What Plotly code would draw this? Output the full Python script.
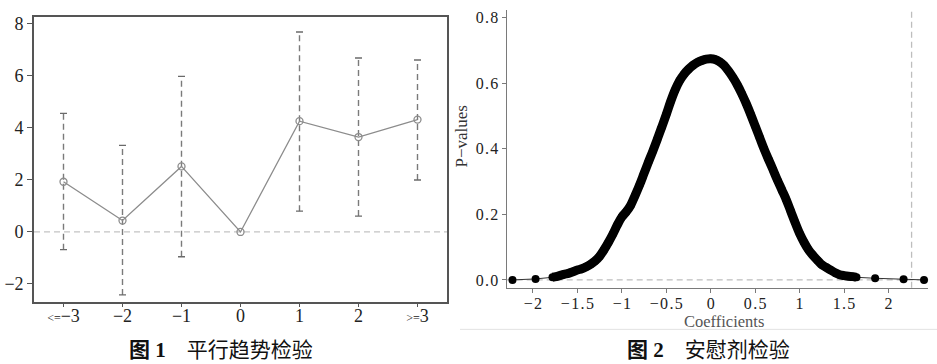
import plotly.graph_objects as go

# ---------------- Data: Figure 1 (parallel trend test) ----------------
periods = ["<=−3", "−2", "−1", "0", "1", "2", ">=3"]
coef_est = [1.93, 0.44, 2.52, 0.00, 4.26, 3.65, 4.32]
ci_low = [-0.68, -2.42, -0.95, None, 0.80, 0.61, 2.00]
ci_high = [4.56, 3.33, 5.98, None, 7.69, 6.69, 6.61]
y_ticks_1 = [-2, 0, 2, 4, 6, 8]

# ---------------- Data: Figure 2 (placebo test) ----------------
coefficients = [
    -2.23, -1.97, -1.78, -1.74, -1.70, -1.65, -1.60, -1.55, -1.50, -1.45,
    -1.40, -1.35, -1.30, -1.25, -1.20, -1.15, -1.10, -1.05, -1.00, -0.95,
    -0.90, -0.85, -0.80, -0.75, -0.70, -0.65, -0.60, -0.55, -0.50, -0.45,
    -0.40, -0.35, -0.30, -0.25, -0.20, -0.15, -0.10, -0.05, 0.00, 0.05,
    0.10, 0.15, 0.20, 0.25, 0.30, 0.35, 0.40, 0.45, 0.50, 0.55,
    0.60, 0.65, 0.70, 0.75, 0.80, 0.85, 0.90, 0.95, 1.00, 1.05,
    1.10, 1.15, 1.20, 1.25, 1.30, 1.35, 1.40, 1.45, 1.50, 1.55,
    1.60, 1.64, 1.85, 2.17, 2.40,
]
p_values = [
    0.000, 0.003, 0.008, 0.010, 0.013, 0.017, 0.020, 0.025, 0.030, 0.034,
    0.040, 0.048, 0.058, 0.072, 0.092, 0.115, 0.140, 0.168, 0.192, 0.208,
    0.228, 0.258, 0.290, 0.325, 0.360, 0.394, 0.430, 0.467, 0.505, 0.545,
    0.580, 0.608, 0.628, 0.643, 0.655, 0.664, 0.670, 0.674, 0.675, 0.673,
    0.666, 0.655, 0.638, 0.618, 0.595, 0.568, 0.538, 0.505, 0.470, 0.435,
    0.400, 0.368, 0.337, 0.305, 0.275, 0.245, 0.210, 0.175, 0.142, 0.115,
    0.092, 0.075, 0.060, 0.046, 0.038, 0.030, 0.022, 0.016, 0.013, 0.011,
    0.010, 0.008, 0.005, 0.002, 0.000,
]
true_coef = 2.26
x_ticks_2 = [-2, -1.5, -1, -0.5, 0, 0.5, 1, 1.5, 2]
y_ticks_2 = [0.0, 0.2, 0.4, 0.6, 0.8]

caption_1 = ("图 1", "平行趋势检验")
caption_2 = ("图 2", "安慰剂检验")

# ---------------- Figure ----------------
W, H = 937, 364
SERIF = "Liberation Serif, Times New Roman, serif"
fig = go.Figure()

def px_x(a, b):
    return [a / W, b / W]

def px_y(top, bottom):
    return [1 - bottom / H, 1 - top / H]

idx = list(range(len(periods)))

# zero reference line (figure 1)
fig.add_shape(type="line", xref="x domain", yref="y", x0=0, x1=1, y0=0, y1=0,
              line=dict(color="#c4c4c4", width=1.3, dash="6px,4px"), layer="below")

# dashed CI bars
ex, ey = [], []
cx, cy = [], []
for i, lo, hi in zip(idx, ci_low, ci_high):
    if lo is None:
        continue
    ex += [i, i, None]
    ey += [lo, hi, None]
    cx += [i, i]
    cy += [lo, hi]
fig.add_trace(go.Scatter(x=ex, y=ey, mode="lines", xaxis="x", yaxis="y",
                         line=dict(color="#7a7a7a", width=1.4, dash="6px,4px"),
                         showlegend=False, hoverinfo="skip"))
fig.add_trace(go.Scatter(x=cx, y=cy, mode="markers", xaxis="x", yaxis="y",
                         marker=dict(symbol="line-ew", size=5,
                                     line=dict(color="#6a6a6a", width=1.4)),
                         showlegend=False, hoverinfo="skip"))
fig.add_trace(go.Scatter(x=idx, y=coef_est, mode="lines+markers", xaxis="x", yaxis="y",
                         line=dict(color="#8c8c8c", width=1.3),
                         marker=dict(symbol="circle-open", size=7,
                                     line=dict(color="#7a7a7a", width=1.3)),
                         showlegend=False))

def fmt_period(s):
    for pre in ("<=", ">="):
        if s.startswith(pre):
            ent = "&lt;=" if pre == "<=" else "&gt;="
            return "<span style='font-size:12px'>" + ent + "</span>" + s[2:]
    return s

ax_line1 = "#555555"
fig.update_layout(
    xaxis=dict(domain=px_x(34, 447), range=[-0.5, 6.5], tickvals=idx,
               ticktext=[fmt_period(p) for p in periods],
               showline=True, mirror=True, linecolor=ax_line1, linewidth=1.6,
               ticks="outside", ticklen=4, tickcolor=ax_line1, showgrid=False,
               zeroline=False, anchor="y", ticklabelstandoff=-7,
               tickfont=dict(family=SERIF, size=18, color="#222")),
    yaxis=dict(domain=px_y(14, 302), range=[-2.68, 8.27], tickvals=y_ticks_1,
               ticktext=[str(v).replace("-", "−") for v in y_ticks_1],
               showline=True, mirror=True, linecolor=ax_line1, linewidth=1.6,
               ticks="outside", ticklen=5, tickcolor=ax_line1, showgrid=False,
               zeroline=False, anchor="x",
               tickfont=dict(family=SERIF, size=18, color="#222")),
)

# ---------------- Figure 2 ----------------
fig.add_shape(type="line", xref="x2 domain", yref="y2", x0=0, x1=1, y0=0, y1=0,
              line=dict(color="#bdbdbd", width=1.3, dash="6px,4px"), layer="below")
fig.add_shape(type="line", xref="x2", yref="y2 domain", x0=true_coef, x1=true_coef,
              y0=0, y1=1, line=dict(color="#bdbdbd", width=1.3, dash="6px,4px"),
              layer="below")

dense_x = coefficients[2:-3]
dense_y = p_values[2:-3]
fig.add_trace(go.Scatter(x=coefficients, y=p_values, mode="lines", xaxis="x2", yaxis="y2",
                         line=dict(color="#333", width=1), showlegend=False,
                         hoverinfo="skip"))
fig.add_trace(go.Scatter(x=dense_x, y=dense_y, mode="lines", xaxis="x2", yaxis="y2",
                         line=dict(color="black", width=9, shape="spline"),
                         showlegend=False, hoverinfo="skip"))
fig.add_trace(go.Scatter(x=coefficients, y=p_values, mode="markers", xaxis="x2", yaxis="y2",
                         marker=dict(color="black", size=8), showlegend=False))

def spaced(v, fmt):
    s = fmt.format(v).replace("-", "−")
    return "\u200a".join(s)

ax_line2 = "#7a7a7a"
fig.update_layout(
    xaxis2=dict(domain=px_x(506.7, 928.3), range=[-2.295, 2.448], tickvals=x_ticks_2,
                ticktext=[spaced(v, "{:g}") for v in x_ticks_2],
                showline=True, linecolor=ax_line2, linewidth=1.3,
                ticks="outside", ticklen=4, tickcolor=ax_line2, showgrid=False,
                zeroline=False, anchor="y2", ticklabelstandoff=-3,
                tickfont=dict(family=SERIF, size=16, color="#222")),
    yaxis2=dict(domain=px_y(6.7, 288), range=[-0.0242, 0.825], tickvals=y_ticks_2,
                ticktext=[spaced(v, "{:.1f}") for v in y_ticks_2],
                showline=True, linecolor=ax_line2, linewidth=1.3,
                ticks="outside", ticklen=4, tickcolor=ax_line2, showgrid=False,
                zeroline=False, anchor="x2",
                tickfont=dict(family=SERIF, size=16, color="#222")),
)

# axis titles of figure 2
fig.add_annotation(text="Coefficients", xref="paper", yref="paper",
                   x=724 / W, y=1 - 322 / H, xanchor="center", yanchor="middle",
                   showarrow=False, font=dict(family=SERIF, size=16.5, color="#555"))
fig.add_annotation(text="P−values", xref="paper", yref="paper",
                   x=462 / W, y=1 - 135 / H, xanchor="center", yanchor="middle",
                   textangle=-90, showarrow=False,
                   font=dict(family=SERIF, size=17, color="#333"))

# thin separator under figure 2 image
fig.add_shape(type="line", xref="paper", yref="paper", x0=460 / W, x1=1,
              y0=1 - 330 / H, y1=1 - 330 / H, line=dict(color="#e2e2e2", width=1))

CAP = "Liberation Serif, Noto Sans CJK SC, sans-serif"
for (lab, title), cxp in ((caption_1, 221), (caption_2, 708)):
    fig.add_annotation(text="<b>" + lab + "</b>　" + title, xref="paper", yref="paper",
                       x=cxp / W, y=1 - 351 / H, xanchor="center", yanchor="middle",
                       showarrow=False, font=dict(family=CAP, size=21, color="#111"))

fig.update_layout(width=W, height=H, margin=dict(l=0, r=0, t=0, b=0),
                  paper_bgcolor="white", plot_bgcolor="white")

fig.write_html("out.html")
